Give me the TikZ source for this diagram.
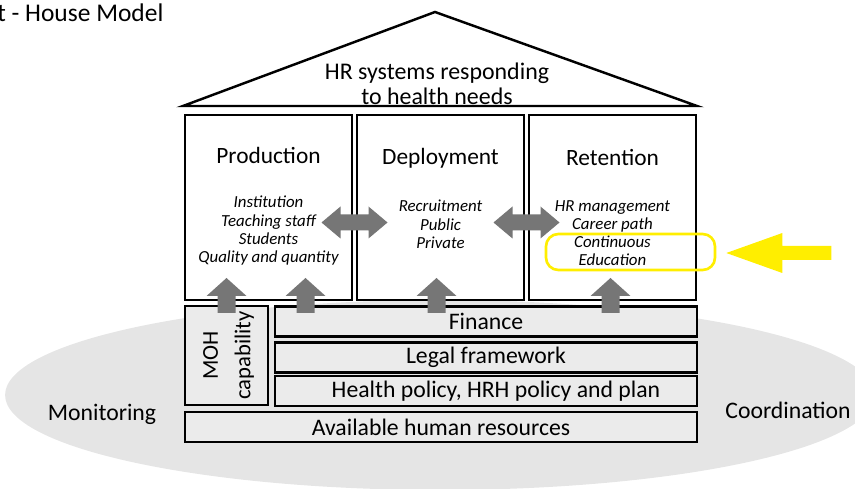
\documentclass[tikz,border=0pt]{standalone}
\usepackage{fontspec}
\setmainfont{Carlito}
\usetikzlibrary{positioning,calc,shapes.geometric}

\definecolor{arrgray}{RGB}{118,118,118}
\definecolor{hlyellow}{RGB}{255,238,0}

\begin{document}
\begin{tikzpicture}[
  x=0.02cm, y=-0.02cm,
  every node/.style={font=\fontsize{13.5}{15}\selectfont, inner sep=0pt},
  % base of the house, drawn behind everything
  ground/.style={ellipse, fill=black!10, minimum width=17.4cm, minimum height=3.8cm},
  pillar/.style={draw=black, line width=1.3pt, fill=white, minimum width=3.34cm, minimum height=3.7cm},
  layer/.style={draw=black, line width=1.3pt, fill=black!8, minimum height=0.6cm},
  ptitle/.style={font=\fontsize{13.3}{15}\selectfont},
  items/.style={font=\fontsize{9.6}{10.4}\selectfont\itshape, align=center, anchor=north},
  hlbox/.style={draw=hlyellow, line width=1.5pt, rounded corners=7pt, minimum width=3.38cm, minimum height=0.72cm},
  uparrow/.pic={\fill[arrgray] (-9,0) -- (-9,-17) -- (-20,-17) -- (0,-35) -- (20,-17) -- (9,-17) -- (9,0) -- cycle;},
  dblarrow/.pic={\fill[arrgray] (-33,0) -- (-14,-16) -- (-14,-8) -- (14,-8) -- (14,-16) -- (33,0)
    -- (14,16) -- (14,8) -- (-14,8) -- (-14,16) -- cycle;},
  yelarrow/.pic={\fill[hlyellow] (0,0) -- (56,-20) -- (56,-7) -- (105,-7) -- (105,7) -- (56,7) -- (56,20) -- cycle;}
]
\useasboundingbox (0,0) rectangle (855,489);
\clip (0,0) rectangle (855,489);

\node[ground] (base) at (440,395) {};
\node[anchor=west, font=\fontsize{14.5}{16}\selectfont] (title) at (-3,13) {t - House Model};
\node (monitor) at (102,414) {Monitoring};
\node (coord) at (788,410) {Coordination};

% roof
\coordinate (roofl) at (183,106);
\coordinate (apex) at (435,12);
\coordinate (roofr) at (697,106);
\draw[line width=1.4pt, line join=miter] (roofl) -- (apex) -- (roofr) -- cycle;
\node[align=center, font=\fontsize{13.6}{14.2}\selectfont] (roof) at (437,84) {HR systems responding\\to health needs};

% three pillars
\node[pillar] (prod) at (268.5,207.5) {};
\node[pillar] (deploy) at (440.5,207.5) {};
\node[pillar] (retain) at (612.5,207.5) {};

\node[ptitle] (prodt) at ($(prod.north)+(0,42)$) {Production};
\node[ptitle] (deployt) at ($(deploy.north)+(0,44)$) {Deployment};
\node[ptitle] (retaint) at ($(retain.north)+(0,44)$) {Retention};

\node[items] (proditems) at ($(prod.north)+(0,82)$) {Institution\\Teaching staff\\Students\\Quality and quantity};
\node[items] (deployitems) at ($(deploy.north)+(0,86)$) {Recruitment\\Public\\Private};
\node[items] (retainitems) at ($(retain.north)+(0,86)$) {HR management\\Career path\\Continuous\\Education};

% foundation layers
\node[layer, minimum width=1.66cm, minimum height=1.98cm] (moh) at (226.5,355.5) {};
\node[rotate=90, align=center, font=\fontsize{12.9}{18.5}\selectfont] (mohtext) at ($(moh.center)+(2,0)$) {MOH\\capability};
\node[layer, minimum width=8.44cm] (finance) at (486,321.5) {Finance};
\node[layer, minimum width=8.44cm] (legal) at (486,357.5) {Legal framework};
\node[layer, minimum width=8.44cm] (policy) at (486,391) {};
\node (policytext) at ($(policy.center)+(10,0)$) {Health policy, HRH policy and plan};
\node[layer, minimum width=10.24cm] (avail) at (441,427) {Available human resources};

% block arrows
\pic at (226.5,313) {uparrow};
\pic at (305.5,313) {uparrow};
\pic at (436.5,313) {uparrow};
\pic at (610.5,313) {uparrow};
\pic at ($(prod.east)!0.5!(deploy.west)+(0,15)$) {dblarrow};
\pic at ($(deploy.east)!0.5!(retain.west)+(0,15)$) {dblarrow};

% highlight
\node[hlbox] (hl) at (630.5,252) {};
\pic at ($(hl.east)+(10,1)$) {yelarrow};

\end{tikzpicture}
\end{document}
